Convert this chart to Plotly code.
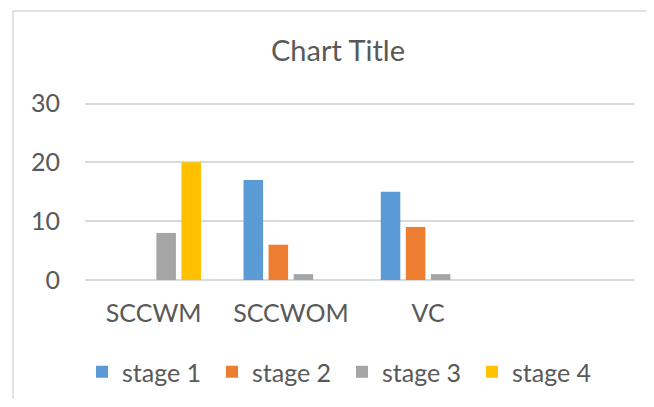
import plotly.graph_objects as go

categories = ["SCCWM", "SCCWOM", "VC"]
series_names = ["stage 1", "stage 2", "stage 3", "stage 4"]
stage1 = [0, 17, 15]
stage2 = [0, 6, 9]
stage3 = [8, 1, 1]
stage4 = [20, 0, 0]
y_ticks = [0, 10, 20, 30]

colors = ["#5B9BD5", "#ED7D31", "#A5A5A5", "#FFC000"]
values = [stage1, stage2, stage3, stage4]

FONT = "Lato"
TXT = "#595959"
GRID = "#D9D9D9"

fig = go.Figure()
for name, vals, col in zip(series_names, values, colors):
    fig.add_trace(go.Bar(x=categories, y=vals, name=name, marker=dict(color=col, line=dict(width=0))))

OFF = 8  # page body margin offset compensation
W, H = 654 - OFF, 407 - 2 * OFF
# target plot area in screenshot pixels: x 85..634, y 100..280
L, T = 85 - OFF, 100 - OFF
R = W - (634 - OFF)
B = H - (280 - OFF)
fig.update_layout(
    width=W, height=H,
    margin=dict(l=L, r=R, t=T, b=B, autoexpand=False),
    paper_bgcolor="white", plot_bgcolor="white",
    barmode="group", bargap=0.27, bargroupgap=0.22,
    font=dict(family=FONT, color=TXT),
    title=dict(text="Chart Title", x=(338 - OFF) / W, xanchor="center", xref="container",
               y=1 - 43 / H, yanchor="middle", yref="container",
               font=dict(size=29, color=TXT, family=FONT)),
    xaxis=dict(type="category", categoryorder="array", categoryarray=categories,
               range=[-0.5, 3.5], showgrid=False, showline=False, zeroline=False, automargin=False,
               ticks="", ticklabelstandoff=16, tickfont=dict(size=25, color=TXT, family=FONT)),
    yaxis=dict(range=[0, 30.6], tickvals=y_ticks, showgrid=True, gridcolor=GRID, gridwidth=1.5,
               zeroline=True, zerolinecolor=GRID, zerolinewidth=1.5, showline=False, automargin=False,
               ticks="", ticklabelstandoff=24, tickfont=dict(size=25, color=TXT, family=FONT)),
    legend=dict(orientation="h", xref="container", yref="container", x=(342 - OFF) / W, xanchor="center",
                y=1 - (374 - OFF - 2) / H, yanchor="middle", font=dict(size=25, color=TXT, family=FONT),
                entrywidth=85, itemwidth=30, traceorder="normal", bgcolor="rgba(0,0,0,0)"),
    showlegend=True,
)

# chart border (Excel chart area outline): only left and top edges are visible
pw = W - L - R
ph = H - T - B
bx0 = (13 - OFF - L) / pw
bx1 = (W + 30 - L) / pw
by0 = (H - B - (H + 30)) / ph
by1 = (H - B - (11 - OFF)) / ph
border = dict(color=GRID, width=1.5)
fig.add_shape(type="line", xref="paper", yref="paper", x0=bx0, x1=bx0, y0=by0, y1=by1, line=border, layer="below")
fig.add_shape(type="line", xref="paper", yref="paper", x0=bx0, x1=bx1, y0=by1, y1=by1, line=border, layer="below")

fig.write_html("out.html")
